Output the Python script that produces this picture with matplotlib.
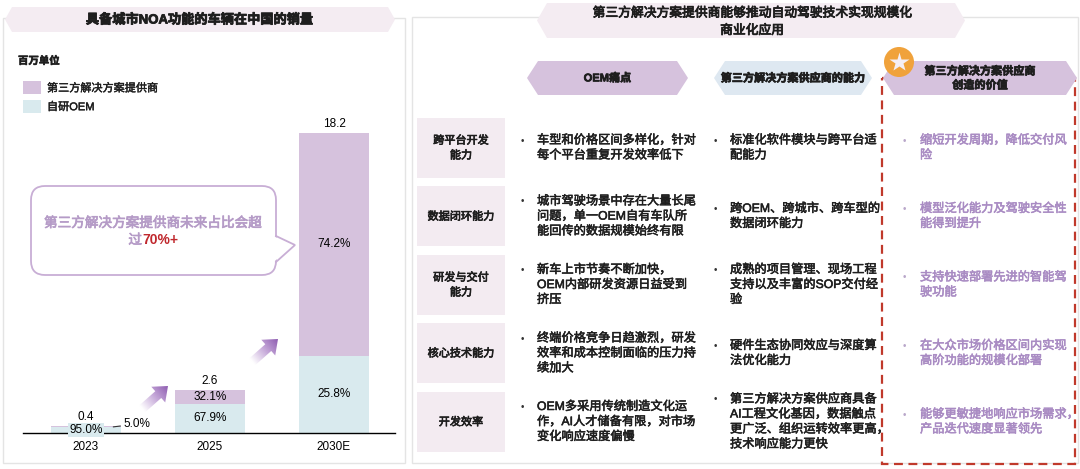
import numpy as np
import matplotlib
matplotlib.use("Agg")
import matplotlib.pyplot as plt
import matplotlib.patheffects as pe
from matplotlib.patches import Polygon, Rectangle, FancyBboxPatch, Circle
from matplotlib.colors import LinearSegmentedColormap

plt.rcParams['font.family'] = ['Liberation Sans', 'Noto Sans CJK SC']

# ---- chart data ----
years = ['2023', '2025', '2030E']
totals = np.array([0.4, 2.6, 18.2])          # 百万辆
third_pct = np.array([5.0, 32.1, 74.2])
oem_pct = np.array([95.0, 67.9, 25.8])
series_names = ['第三方解决方案提供商', '自研OEM']
unit_label = '百万单位'
left_title = '具备城市NOA功能的车辆在中国的销量'
callout_line1 = '第三方解决方案提供商未来占比会超'
callout_line2 = ['过', '70%+']

# ---- table text ----
right_title = ['第三方解决方案提供商能够推动自动驾驶技术实现规模化', '商业化应用']
col_headers = [['OEM痛点'], ['第三方解决方案供应商的能力'], ['第三方解决方案供应商', '创造的价值']]
row_labels = [['跨平台开发', '能力'], ['数据闭环能力'], ['研发与交付', '能力'],
              ['核心技术能力'], ['开发效率']]
oem_pain = [
    ['车型和价格区间多样化，针对', '每个平台重复开发效率低下'],
    ['城市驾驶场景中存在大量长尾', '问题，单一OEM自有车队所', '能回传的数据规模始终有限'],
    ['新车上市节奏不断加快，', 'OEM内部研发资源日益受到', '挤压'],
    ['终端价格竞争日趋激烈，研发', '效率和成本控制面临的压力持', '续加大'],
    ['OEM多采用传统制造文化运', '作，AI人才储备有限，对市场', '变化响应速度偏慢'],
]
capability = [
    ['标准化软件模块与跨平台适', '配能力'],
    ['跨OEM、跨城市、跨车型的', '数据闭环能力'],
    ['成熟的项目管理、现场工程', '支持以及丰富的SOP交付经', '验'],
    ['硬件生态协同效应与深度算', '法优化能力'],
    ['第三方解决方案供应商具备', 'AI工程文化基因，数据触点', '更广泛、组织运转效率更高，', '技术响应能力更快'],
]
value_created = [
    ['缩短开发周期，降低交付风', '险'],
    ['模型泛化能力及驾驶安全性', '能得到提升'],
    ['支持快速部署先进的智能驾', '驶功能'],
    ['在大众市场价格区间内实现', '高阶功能的规模化部署'],
    ['能够更敏捷地响应市场需求，', '产品迭代速度显著领先'],
]

# colours
purple = '#d6c2dd'
oem_blue = '#d9eaee'
pale = '#f4ecf2'
header_blue = '#dee8f1'
dash_red = '#c0392b'
value_purple = '#a98bc3'
callout_edge = '#c8aed5'
star_orange = '#f0a23b'
txt = '#1e1e1e'

W, H = 1080, 469
fig = plt.figure(figsize=(W / 100, H / 100), dpi=100)
ax = fig.add_axes([0, 0, 1, 1])
ax.axis('off')


def heavy(c, w=0.45):
    # CJK bold face is not picked up, thicken strokes instead
    return [pe.withStroke(linewidth=w, foreground=c)]


def hexagon(x0, x1, y0, y1, tip, fc, z=2):
    ym = (y0 + y1) / 2
    pts = [(x0 + tip, y0), (x1 - tip, y0), (x1, ym), (x1 - tip, y1), (x0 + tip, y1), (x0, ym)]
    ax.add_patch(Polygon(pts, closed=True, fc=fc, ec='none', zorder=z))


def lines_at(x, yc, lines, step=15, **kw):
    y0 = yc - (len(lines) - 1) * step / 2
    for k, s in enumerate(lines):
        ax.text(x, y0 + k * step, s, va='center', **kw)
    return y0


arrow_cmap = LinearSegmentedColormap.from_list('arr', ['#ffffff', '#c6a9d9', '#8d5bb0'])


def grad_arrow(tail, tip, shaft=9, head=21, head_len=13):
    tail = np.array(tail, float)
    tip = np.array(tip, float)
    d = tip - tail
    L = np.hypot(*d)
    u = d / L
    v = np.array([-u[1], u[0]])
    b = tip - u * head_len
    pts = [tail + v * shaft / 2, b + v * shaft / 2, b + v * head / 2, tip,
           b - v * head / 2, b - v * shaft / 2, tail - v * shaft / 2]
    poly = Polygon(pts, closed=True, fc='none', ec='none')
    ax.add_patch(poly)
    xs = [p[0] for p in pts]
    ys = [p[1] for p in pts]
    x0, x1, y0, y1 = min(xs), max(xs), min(ys), max(ys)
    gx, gy = np.meshgrid(np.linspace(x0, x1, 80), np.linspace(y0, y1, 80))
    t = ((gx - tail[0]) * u[0] + (gy - tail[1]) * u[1]) / L
    im = ax.imshow(np.clip(t, 0, 1), extent=(x0, x1, y0, y1), origin='lower',
                   cmap=arrow_cmap, vmin=0, vmax=1, aspect='auto',
                   interpolation='bilinear', zorder=3)
    im.set_clip_path(poly)


# ================= left panel =================
ax.add_patch(Rectangle((3, 18), 402, 445, fc='white', ec='#e4e4e4', lw=1, zorder=0))
hexagon(5, 395, 7, 32, 7, pale)
ax.text(200, 20, left_title, ha='center', va='center', fontsize=9.5,
        fontweight='bold', color=txt, zorder=4, path_effects=heavy(txt, 0.6))
ax.text(18, 61, unit_label, ha='left', va='center', fontsize=7.5, fontweight='bold',
        color=txt, path_effects=heavy(txt, 0.4))
for k, (name, col) in enumerate(zip(series_names, [purple, oem_blue])):
    yy = 81 + k * 19
    ax.add_patch(Rectangle((23, yy), 18, 13, fc=col, ec='none'))
    ax.text(47, yy + 7, name, ha='left', va='center', fontsize=8, color=txt,
            path_effects=heavy(txt, 0.3))

# callout bubble
ax.add_patch(FancyBboxPatch((31, 186), 245, 89, boxstyle='round,pad=0,rounding_size=14',
                            fc='white', ec=callout_edge, lw=1.3, zorder=2))
ax.add_patch(Polygon([(274, 236.5), (295, 245), (274, 261.5)], closed=True,
                     fc='white', ec='none', zorder=2.5))
ax.plot([276, 295, 276], [236, 245, 262], color=callout_edge, lw=1.3, zorder=2.6,
        solid_joinstyle='miter')
ax.text(153, 223, callout_line1, ha='center', va='center', fontsize=9.8,
        color='#b59bc7', zorder=3, path_effects=heavy('#b59bc7', 0.5))
ax.text(142, 240, callout_line2[0], ha='right', va='center', fontsize=9.8,
        color='#b59bc7', zorder=3, path_effects=heavy('#b59bc7', 0.5))
ax.text(142, 240, callout_line2[1], ha='left', va='center', fontsize=10,
        fontweight='bold', color='#c0282d', zorder=3)

grad_arrow((142, 409), (168, 386))
grad_arrow((252, 362), (278, 339))

# ================= right panel =================
ax.add_patch(Rectangle((412, 17), 666, 446, fc='white', ec='#e4e4e4', lw=1, zorder=0))
hexagon(537, 965, 3, 38, 10, pale)
lines_at(752, 22, right_title, step=17.5, ha='center', fontsize=9.2,
         color=txt, zorder=4, path_effects=heavy(txt, 0.6))

ax.add_patch(Rectangle((882, 78), 193, 386, fill=False, ec=dash_red, lw=1.6,
                       ls=(0, (4, 2.5)), zorder=1))

hdr_x = [(527, 688), (714, 872), (883, 1077)]
hdr_fc = [purple, header_blue, purple]
for (x0, x1), fc, lab in zip(hdr_x, hdr_fc, col_headers):
    hexagon(x0, x1, 61, 95, 11, fc, z=3)
    lines_at((x0 + x1) / 2, 78, lab, step=14, ha='center', fontsize=8,
             fontweight='bold', color=txt, zorder=4, path_effects=heavy(txt, 0.5))

ax.add_patch(Circle((899, 62), 15, fc=star_orange, ec='none', zorder=6))
ax.plot(899, 62.5, marker='*', ms=15, color='#f4eef5', mec='none', zorder=7)

cols = [(522, 537, oem_pain, txt, '#333333'),
        (715, 730, capability, txt, '#333333'),
        (904, 920, value_created, value_purple, '#b9a7ca')]
for i, lab in enumerate(row_labels):
    top = 118 + i * 68.5
    yc = top + 30
    ax.add_patch(Rectangle((417, top), 88, 60, fc='#f3ebf1', ec='none', zorder=1))
    lines_at(461, yc, lab, step=15, ha='center', fontsize=8, color=txt, zorder=2,
             path_effects=heavy(txt, 0.5))
    for bx, tx, texts, tc, bc in cols:
        y0 = lines_at(tx, yc, texts[i], step=15, ha='left', fontsize=8.8,
                      color=tc, zorder=2, path_effects=heavy(tc, 0.4))
        ax.text(bx, y0, '•', ha='center', va='center', fontsize=7, color=bc, zorder=2)

ax.set_xlim(0, W)
ax.set_ylim(H, 0)

# ================= bar chart =================
px_per_unit = 16.5
base_y = 433
axb = fig.add_axes([23 / W, (H - base_y) / H, 372 / W, 20 * px_per_unit / H])
axb.patch.set_alpha(0)
x = np.arange(len(years))
oem_vals = totals * oem_pct / 100
third_vals = totals * third_pct / 100
bw = 0.565
axb.bar(x, oem_vals, bw, color=oem_blue, zorder=1)
axb.bar(x, third_vals, bw, bottom=oem_vals, color=purple, zorder=1)
axb.set_xlim(-0.508, 2.492)
axb.set_ylim(0, 20)
for s in ['left', 'top', 'right']:
    axb.spines[s].set_visible(False)
axb.spines['bottom'].set_color('black')
axb.spines['bottom'].set_linewidth(1.0)
axb.set_yticks([])
axb.set_xticks(x, years)
axb.tick_params(axis='x', length=0, pad=6, labelsize=8.5)

for i in range(len(years)):
    axb.annotate(f'{totals[i]:.1f}', (x[i], totals[i]), xytext=(0, 9),
                 textcoords='offset pixels', ha='center', va='center', fontsize=8.5)
    if i == 0:
        axb.text(x[i], oem_vals[i] / 2, f'{oem_pct[i]:.1f}%', ha='center', va='center',
                 fontsize=8.5, zorder=5,
                 bbox=dict(boxstyle='square,pad=0.1', fc=oem_blue, ec='none'))
        axb.annotate(f'{third_pct[i]:.1f}%', (x[i] + 0.22, totals[i] - 0.03),
                     xytext=(x[i] + 0.30, totals[i] + 0.15), ha='left', va='center',
                     fontsize=8.5,
                     arrowprops=dict(arrowstyle='-', lw=0.8, color='#333333',
                                     shrinkA=0, shrinkB=0))
    else:
        axb.text(x[i], oem_vals[i] / 2, f'{oem_pct[i]:.1f}%', ha='center', va='center',
                 fontsize=8.5)
        axb.text(x[i], oem_vals[i] + third_vals[i] / 2, f'{third_pct[i]:.1f}%',
                 ha='center', va='center', fontsize=8.5)

fig.savefig('out.png', dpi=100)
